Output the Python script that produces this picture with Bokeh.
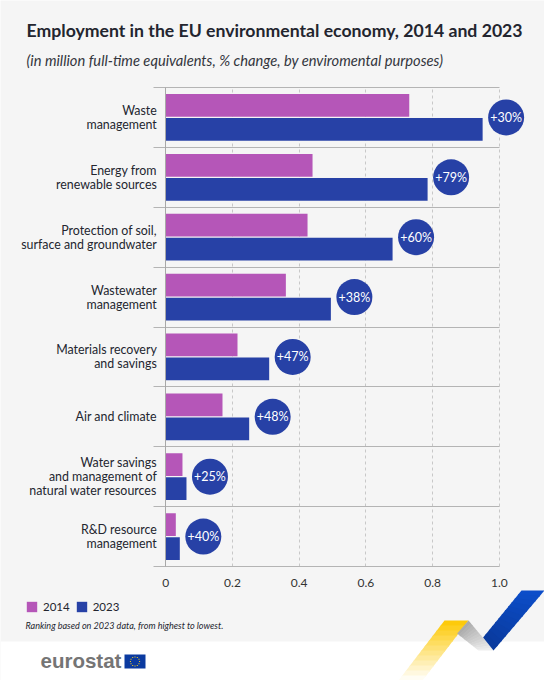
from bokeh.plotting import figure
from bokeh.embed import file_html
from bokeh.resources import INLINE
from bokeh.core.properties import value
from bokeh.models import (ColumnDataSource, Label, BoxAnnotation, PolyAnnotation, Legend, LegendItem,
                          FixedTicker, Range1d)
from bokeh.transform import dodge
import math

categories = ["Waste\nmanagement", "Energy from\nrenewable sources", "Protection of soil,\nsurface and groundwater",
              "Wastewater\nmanagement", "Materials recovery\nand savings", "Air and climate",
              "Water savings\nand management of\nnatural water resources", "R&D resource\nmanagement"]
values_2014 = [0.73, 0.44, 0.425, 0.36, 0.215, 0.17, 0.05, 0.03]
values_2023 = [0.95, 0.785, 0.68, 0.495, 0.31, 0.25, 0.062, 0.042]
changes = ["+30%", "+79%", "+60%", "+38%", "+47%", "+48%", "+25%", "+40%"]
x_ticks = [0, 0.2, 0.4, 0.6, 0.8, 1.0]
x_tick_labels = ["0", "0.2", "0.4", "0.6", "0.8", "1.0"]

GRAY = "#f5f5f5"
C14 = "#b556b8"
C23 = "#2741a6"
INK = "#23252f"
FONT = "Lato"
n = len(categories)
positions = [n - 0.5 - i for i in range(n)]

src = ColumnDataSource(dict(y=positions, v14=values_2014, v23=values_2023, ch=changes))

W, H = 544, 680
CHART_TOP, CHART_BOTTOM = 87, 566
ROW_PX = (CHART_BOTTOM - CHART_TOP) / n
PX_PER_UNIT = 333.5
ZERO_PX = 165.3
p = figure(width=W, height=H, output_backend="svg", toolbar_location=None,
           x_range=Range1d(-ZERO_PX / PX_PER_UNIT, (W - ZERO_PX) / PX_PER_UNIT),
           y_range=Range1d(-(H - CHART_BOTTOM) / ROW_PX, n + CHART_TOP / ROW_PX),
           min_border=0, background_fill_color=GRAY, border_fill_color=GRAY, outline_line_color=None)

# axes and grids
p.xaxis.fixed_location = 0
p.xaxis.ticker = FixedTicker(ticks=x_ticks)
p.xaxis.major_label_overrides = dict(zip(x_ticks, x_tick_labels))
p.xaxis.bounds = (0, 1)
p.xaxis.axis_line_color = None
p.xaxis.major_tick_line_color = None
p.xaxis.minor_tick_line_color = None
p.xaxis.major_label_text_font = FONT
p.xaxis.major_label_text_font_size = "12px"
p.xaxis.major_label_text_color = "#333333"
p.xaxis.major_label_standoff = 6

p.yaxis.ticker = FixedTicker(ticks=positions)
p.yaxis.major_label_overrides = dict(zip(positions, categories))
p.yaxis.fixed_location = 0
p.yaxis.bounds = (0, n)
p.yaxis.axis_line_color = "#a8a8a8"
p.yaxis.major_tick_line_color = None
p.yaxis.minor_tick_line_color = None
p.yaxis.major_label_text_font = FONT
p.yaxis.major_label_text_font_size = "12.4px"
p.yaxis.major_label_text_color = INK
p.yaxis.major_label_standoff = 3
p.yaxis.major_label_text_line_height = 0.93

p.xgrid.ticker = FixedTicker(ticks=x_ticks[1:])
p.xgrid.grid_line_color = "#c8c8c8"
p.xgrid.grid_line_dash = [3, 3]
p.xgrid.cross_bounds = (0, n)
p.ygrid.ticker = FixedTicker(ticks=list(range(n + 1)))
p.ygrid.grid_line_color = "#b4b4b4"
p.ygrid.cross_bounds = (-0.036, 1)

# bars
r14 = p.hbar(y=dodge("y", 0.2, range=p.y_range), right="v14", left=0, height=0.38, source=src, color=C14, line_color=None)
r23 = p.hbar(y=dodge("y", -0.2, range=p.y_range), right="v23", left=0, height=0.38, source=src, color=C23, line_color=None)

# change badges
OFFSET = 23.5
p.scatter(x=dodge("v23", OFFSET / PX_PER_UNIT, range=p.x_range), y="y", size=36, source=src, color=C23, line_color=None)
p.text(x="v23", y="y", text="ch", x_offset=OFFSET, source=src, text_color="white", text_align="center",
       text_baseline="middle", text_font=value(FONT), text_font_size="12.5px")

# legend
legend = Legend(items=[LegendItem(label="2014", renderers=[r14]), LegendItem(label="2023", renderers=[r23])],
                orientation="horizontal", location=(20, 62), background_fill_alpha=0, border_line_alpha=0,
                label_text_font=FONT, label_text_font_size="11.5px", label_text_color=INK,
                glyph_width=13, glyph_height=13, label_standoff=5, spacing=5, padding=5, margin=0)
p.add_layout(legend, "center")


def box(l, t, r, b, color, **kw):
    p.add_layout(BoxAnnotation(left=l, right=r, top=t, bottom=b, left_units="canvas",
                               right_units="canvas", top_units="canvas", bottom_units="canvas",
                               fill_color=color, fill_alpha=1, line_color=None, **kw))


def poly(pts, color):
    p.add_layout(PolyAnnotation(xs=[a for a, _ in pts], ys=[b for _, b in pts], xs_units="canvas",
                                ys_units="canvas", fill_color=color, fill_alpha=1, line_color=None))


def mix(c1, c2, t):
    a = [int(c1[i:i + 2], 16) for i in (1, 3, 5)]
    b = [int(c2[i:i + 2], 16) for i in (1, 3, 5)]
    return "#%02x%02x%02x" % tuple(round(u + (v - u) * t) for u, v in zip(a, b))


def ribbon(a, b, c, d, c1, c2, steps=12):
    """Quad a-b (start edge) to d-c (end edge) with a colour ramp."""
    lerp = lambda u, v, t: (u[0] + (v[0] - u[0]) * t, u[1] + (v[1] - u[1]) * t)
    for i in range(steps):
        s, e = i / steps, (i + 1) / steps
        poly([lerp(a, d, s), lerp(b, c, s), lerp(b, c, min(e + 0.02, 1)), lerp(a, d, min(e + 0.02, 1))],
             mix(c1, c2, (s + e) / 2))


box(0, 641, W, H, "#ffffff")
ribbon((444, 620), (468, 620), (422, 680), (398, 680), "#fdc800", "#ffffff")
ribbon((468, 620), (456.6, 633), (478, 650), (493, 650), "#a9a9a9", "#f0f0f0")
ribbon((521, 590), (544, 590), (493, 650), (482.6, 637), "#0c4ecb", "#0a3a9c")

box(124, 654, 145, 668, "#0b3aa0")
for k in range(12):
    ang = k * math.pi / 6
    sx, sy = 134.5 + 4.6 * math.cos(ang), 661 + 4.6 * math.sin(ang)
    box(sx - 0.5, sy - 0.5, sx + 0.5, sy + 0.5, "#ffd617")


def label(x, y, text, **kw):
    """x, y: left and vertical middle on the picture, measured from its top-left corner."""
    p.add_layout(Label(x=x, y=H - y, x_units="screen", y_units="screen", text=text,
                       text_baseline="middle", **kw))


label(26, 30, "Employment in the EU environmental economy, 2014 and 2023", text_font=FONT,
      text_font_style="bold", text_font_size="17.65px", text_color=INK)
label(26, 59, "(in million full-time equivalents, % change, by enviromental purposes)", text_font=FONT,
      text_font_style="italic", text_font_size="14.7px", text_color="#33353d")
label(25, 625, "Ranking based on 2023 data, from highest to lowest.", text_font=FONT,
      text_font_style="italic", text_font_size="9.05px", text_color=INK)
label(40, 660, "eurostat", text_font="Liberation Sans", text_font_style="bold", text_font_size="20.5px",
      text_color="#757575")

open("out.html", "w").write(file_html(p, INLINE))
